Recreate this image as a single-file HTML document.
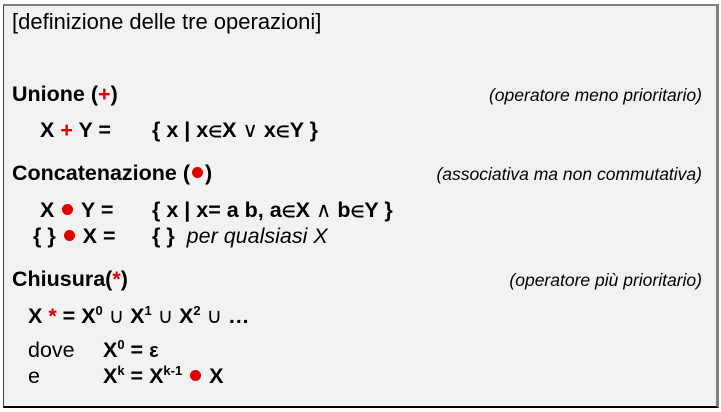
<!DOCTYPE html>
<html><head><meta charset="utf-8"><style>
body{margin:0;width:721px;height:412px;background:#fff;position:relative;overflow:hidden;font-family:"Liberation Sans",Arial,sans-serif;color:#000}
#box{position:absolute;left:3px;top:4px;width:712px;height:400px;background:#f2f2f2;border-top:2px solid #808080;border-left:1px solid #404040;border-right:3px solid #808080;border-bottom:2px solid #000}
.t{position:absolute;white-space:pre;line-height:24px;font-size:21.5px}
.b{font-weight:bold}
.r{color:#e00000}
.c{position:absolute;right:19px;font-style:italic;font-size:17.5px;line-height:24px;white-space:pre}
sup{font-size:13px;vertical-align:8px;line-height:0}
.s{font-size:16px}
.o{font-size:21px;font-weight:normal;font-family:"DejaVu Sans",sans-serif}
.e{font-size:20px}
.d{display:inline-block;width:11px;height:11px;border-radius:50%;background:#e00000;vertical-align:2px;margin:0 2px}
</style></head><body>
<div id="box"></div>
<div class="t" style="left:12px;top:10px;font-size:22px">[definizione delle tre operazioni]</div>

<div class="t b" style="left:12px;top:82px">Unione (<span class="r">+</span>)</div>
<div class="c" style="top:83px">(operatore meno prioritario)</div>
<div class="t b" style="left:40px;top:118px">X <span class="r">+</span> Y =</div>
<div class="t b" style="left:152px;top:118px">{ x | x<span class="s">∈</span>X <span class="o">∨</span> x<span class="s">∈</span>Y }</div>

<div class="t b" style="left:12px;top:161px">Concatenazione (<span class="d"></span>)</div>
<div class="c" style="top:162px">(associativa ma non commutativa)</div>
<div class="t b" style="left:40px;top:198px">X <span class="d"></span> Y =</div>
<div class="t b" style="left:152px;top:198px">{ x | x= a b, a<span class="s">∈</span>X <span class="o">∧</span> b<span class="s">∈</span>Y }</div>
<div class="t" style="left:33px;top:224px"><b>{ } <span class="d"></span> X =</b></div>
<div class="t" style="left:152px;top:224px"><b>{ }</b>  <i>per qualsiasi X</i></div>

<div class="t b" style="left:12px;top:267px">Chiusura(<span class="r">*</span>)</div>
<div class="c" style="top:268px">(operatore più prioritario)</div>
<div class="t b" style="left:28px;top:304px">X <span class="r">*</span> = X<sup>0</sup> <span class="o">∪</span> X<sup>1</sup> <span class="o">∪</span> X<sup>2</sup> <span class="o">∪</span> …</div>
<div class="t" style="left:28px;top:338px">dove</div>
<div class="t b" style="left:103px;top:338px">X<sup>0</sup> = <span class="e">ε</span></div>
<div class="t" style="left:28px;top:364px">e</div>
<div class="t b" style="left:103px;top:364px">X<sup>k</sup> = X<sup>k-1</sup> <span class="d"></span> X</div>
</body></html>
